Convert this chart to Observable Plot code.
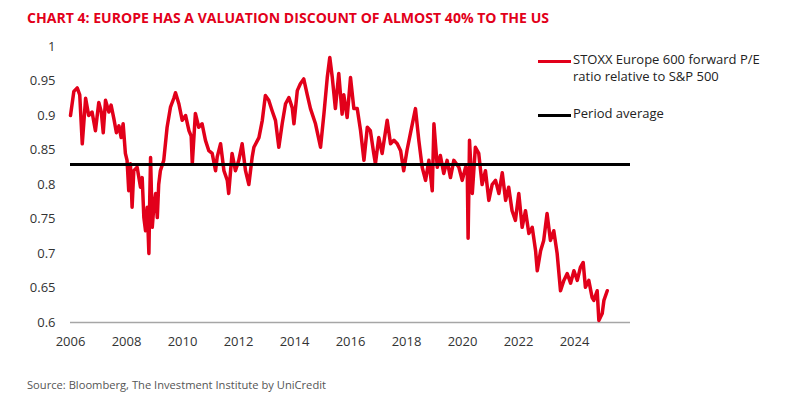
<!DOCTYPE html>
<html>
<head>
<meta charset="utf-8">
<script src="https://cdn.jsdelivr.net/npm/d3@7"></script>
<script src="https://cdn.jsdelivr.net/npm/@observablehq/plot@0.6"></script>
<style>
  html, body { margin: 0; padding: 0; background: #fff; }
  body { width: 791px; height: 403px; position: relative; overflow: hidden; font-family: "Open Sans", "Noto Sans", sans-serif; }
  #title { position: absolute; left: 27px; top: 8px; font-size: 14px; font-weight: 700; color: #e2001a; white-space: nowrap; transform-origin: left center; }
  #chart { position: absolute; left: 0; top: 34px; }
  #legend { position: absolute; left: 538px; top: 51px; font-size: 13px; color: #222; }
  .item { display: flex; align-items: flex-start; }
  .swatch { width: 33px; height: 3px; margin-top: 9px; margin-right: 2px; flex: none; }
  .label { line-height: 17px; }
  #source { position: absolute; left: 27px; top: 377px; font-size: 11.5px; color: #555; white-space: nowrap; transform-origin: left center; }
</style>
</head>
<body>
<div id="title"></div>
<div id="chart"></div>
<div id="legend"></div>
<div id="source"></div>
<script>
// ---- data ----
const titleText = "CHART 4: EUROPE HAS A VALUATION DISCOUNT OF ALMOST 40% TO THE US";
const sourceText = "Source: Bloomberg, The Investment Institute by UniCredit";
const seriesLabelLines = ["STOXX Europe 600 forward P/E", "ratio relative to S&P 500"];
const averageLabel = "Period average";

// decimal years
const dates = [
  2006.00, 2006.12, 2006.24, 2006.33, 2006.42, 2006.54, 2006.65, 2006.77, 2006.89, 2007.01,
  2007.10, 2007.17, 2007.25, 2007.37, 2007.45, 2007.55, 2007.64, 2007.73, 2007.81, 2007.88,
  2007.96, 2008.02, 2008.08, 2008.14, 2008.20, 2008.26, 2008.38, 2008.50, 2008.56, 2008.62,
  2008.68, 2008.74, 2008.80, 2008.83, 2008.86, 2008.92, 2008.98, 2009.04, 2009.10, 2009.15,
  2009.21, 2009.33, 2009.45, 2009.57, 2009.69, 2009.75, 2009.87, 2009.99, 2010.11, 2010.23,
  2010.31, 2010.35, 2010.46, 2010.58, 2010.70, 2010.82, 2010.94, 2011.06, 2011.18, 2011.24,
  2011.36, 2011.48, 2011.60, 2011.65, 2011.77, 2011.89, 2012.01, 2012.13, 2012.25, 2012.37,
  2012.49, 2012.55, 2012.73, 2012.85, 2012.96, 2013.08, 2013.20, 2013.32, 2013.44, 2013.56,
  2013.68, 2013.80, 2013.92, 2013.98, 2014.10, 2014.21, 2014.33, 2014.45, 2014.57, 2014.75,
  2014.93, 2015.05, 2015.17, 2015.26, 2015.35, 2015.46, 2015.58, 2015.70, 2015.76, 2015.88,
  2016.00, 2016.12, 2016.24, 2016.36, 2016.48, 2016.60, 2016.71, 2016.83, 2016.89, 2017.01,
  2017.13, 2017.31, 2017.43, 2017.55, 2017.67, 2017.79, 2017.90, 2018.02, 2018.14, 2018.32,
  2018.44, 2018.56, 2018.68, 2018.80, 2018.92, 2018.98, 2019.10, 2019.21, 2019.33, 2019.45,
  2019.57, 2019.69, 2019.87, 2019.99, 2020.11, 2020.17, 2020.20, 2020.23, 2020.25, 2020.35,
  2020.46, 2020.58, 2020.70, 2020.82, 2020.94, 2021.06, 2021.18, 2021.30, 2021.42, 2021.54,
  2021.65, 2021.77, 2021.89, 2022.01, 2022.13, 2022.25, 2022.37, 2022.49, 2022.61, 2022.67,
  2022.79, 2022.90, 2023.02, 2023.14, 2023.26, 2023.38, 2023.50, 2023.62, 2023.74, 2023.86,
  2023.98, 2024.10, 2024.21, 2024.31, 2024.39, 2024.51, 2024.63, 2024.69, 2024.81, 2024.87,
  2024.99, 2025.05, 2025.17
];
const ratios = [
  0.900, 0.935, 0.940, 0.930, 0.859, 0.925, 0.900, 0.905, 0.878, 0.919,
  0.905, 0.875, 0.922, 0.905, 0.915, 0.895, 0.875, 0.885, 0.868, 0.888,
  0.845, 0.835, 0.791, 0.830, 0.767, 0.820, 0.825, 0.796, 0.810, 0.752,
  0.733, 0.767, 0.700, 0.780, 0.839, 0.738, 0.770, 0.787, 0.752, 0.800,
  0.820, 0.835, 0.883, 0.912, 0.925, 0.933, 0.917, 0.893, 0.900, 0.878,
  0.870, 0.830, 0.903, 0.883, 0.888, 0.864, 0.849, 0.845, 0.820, 0.840,
  0.859, 0.820, 0.806, 0.787, 0.845, 0.820, 0.835, 0.859, 0.820, 0.800,
  0.840, 0.854, 0.868, 0.893, 0.929, 0.922, 0.907, 0.893, 0.854, 0.888,
  0.917, 0.926, 0.911, 0.888, 0.936, 0.946, 0.953, 0.931, 0.910, 0.888,
  0.854, 0.902, 0.955, 0.984, 0.955, 0.910, 0.961, 0.902, 0.930, 0.897,
  0.955, 0.910, 0.910, 0.878, 0.835, 0.883, 0.878, 0.845, 0.830, 0.868,
  0.845, 0.893, 0.859, 0.864, 0.859, 0.849, 0.820, 0.850, 0.874, 0.910,
  0.864, 0.825, 0.806, 0.835, 0.791, 0.888, 0.825, 0.842, 0.816, 0.835,
  0.810, 0.835, 0.825, 0.806, 0.825, 0.820, 0.722, 0.800, 0.864, 0.787,
  0.854, 0.845, 0.800, 0.820, 0.777, 0.800, 0.806, 0.787, 0.817, 0.777,
  0.796, 0.762, 0.748, 0.787, 0.738, 0.762, 0.729, 0.738, 0.704, 0.675,
  0.704, 0.719, 0.758, 0.719, 0.733, 0.700, 0.646, 0.661, 0.671, 0.657,
  0.675, 0.661, 0.680, 0.687, 0.651, 0.661, 0.636, 0.632, 0.646, 0.603,
  0.613, 0.632, 0.646
];
const periodAverage = 0.829;
const xTicks = [2006, 2008, 2010, 2012, 2014, 2016, 2018, 2020, 2022, 2024];
const yTicks = [0.6, 0.65, 0.7, 0.75, 0.8, 0.85, 0.9, 0.95, 1];
const yTickLabels = ["0.6", "0.65", "0.7", "0.75", "0.8", "0.85", "0.9", "0.95", "1"];

const RED = "#e2001a";

// ---- text ----
document.getElementById("title").textContent = titleText;
document.getElementById("source").textContent = sourceText;
const legend = document.getElementById("legend");
legend.innerHTML =
  `<div class="item"><div class="swatch" style="background:${RED}"></div><div class="label">${seriesLabelLines.join("<br>")}</div></div>` +
  `<div class="item" style="margin-top:20px"><div class="swatch" style="background:#000"></div><div class="label">${averageLabel}</div></div>`;

// ---- chart ----
const data = dates.map((d, i) => ({date: d, value: ratios[i]}));
const chart = Plot.plot({
  width: 791,
  height: 330,
  marginLeft: 70,
  marginRight: 161,
  marginTop: 12,
  marginBottom: 42,
  style: {fontFamily: "'Open Sans', sans-serif", fontSize: "13px", color: "#333", background: "#fff"},
  x: {domain: [2006, 2026], ticks: xTicks, tickFormat: d => String(d), tickSize: 0, tickPadding: 14, label: null},
  y: {domain: [0.6, 1], ticks: yTicks, tickFormat: d => yTickLabels[yTicks.indexOf(d)], tickSize: 0, tickPadding: 15, label: null},
  marks: [
    Plot.ruleY([0.6], {stroke: "#a6a6a6", strokeWidth: 1.5}),
    Plot.line(data, {x: "date", y: "value", stroke: RED, strokeWidth: 3.5, strokeLinejoin: "round"}),
    Plot.ruleY([periodAverage], {stroke: "#000", strokeWidth: 3})
  ]
});
document.getElementById("chart").appendChild(chart);

// fit title/source widths to reference
function fit(id, w) {
  const el = document.getElementById(id);
  const cur = el.getBoundingClientRect().width;
  if (cur > 0) el.style.transform = `scaleX(${w / cur})`;
}
fit("title", 522);
fit("source", 299);
</script>
</body>
</html>
